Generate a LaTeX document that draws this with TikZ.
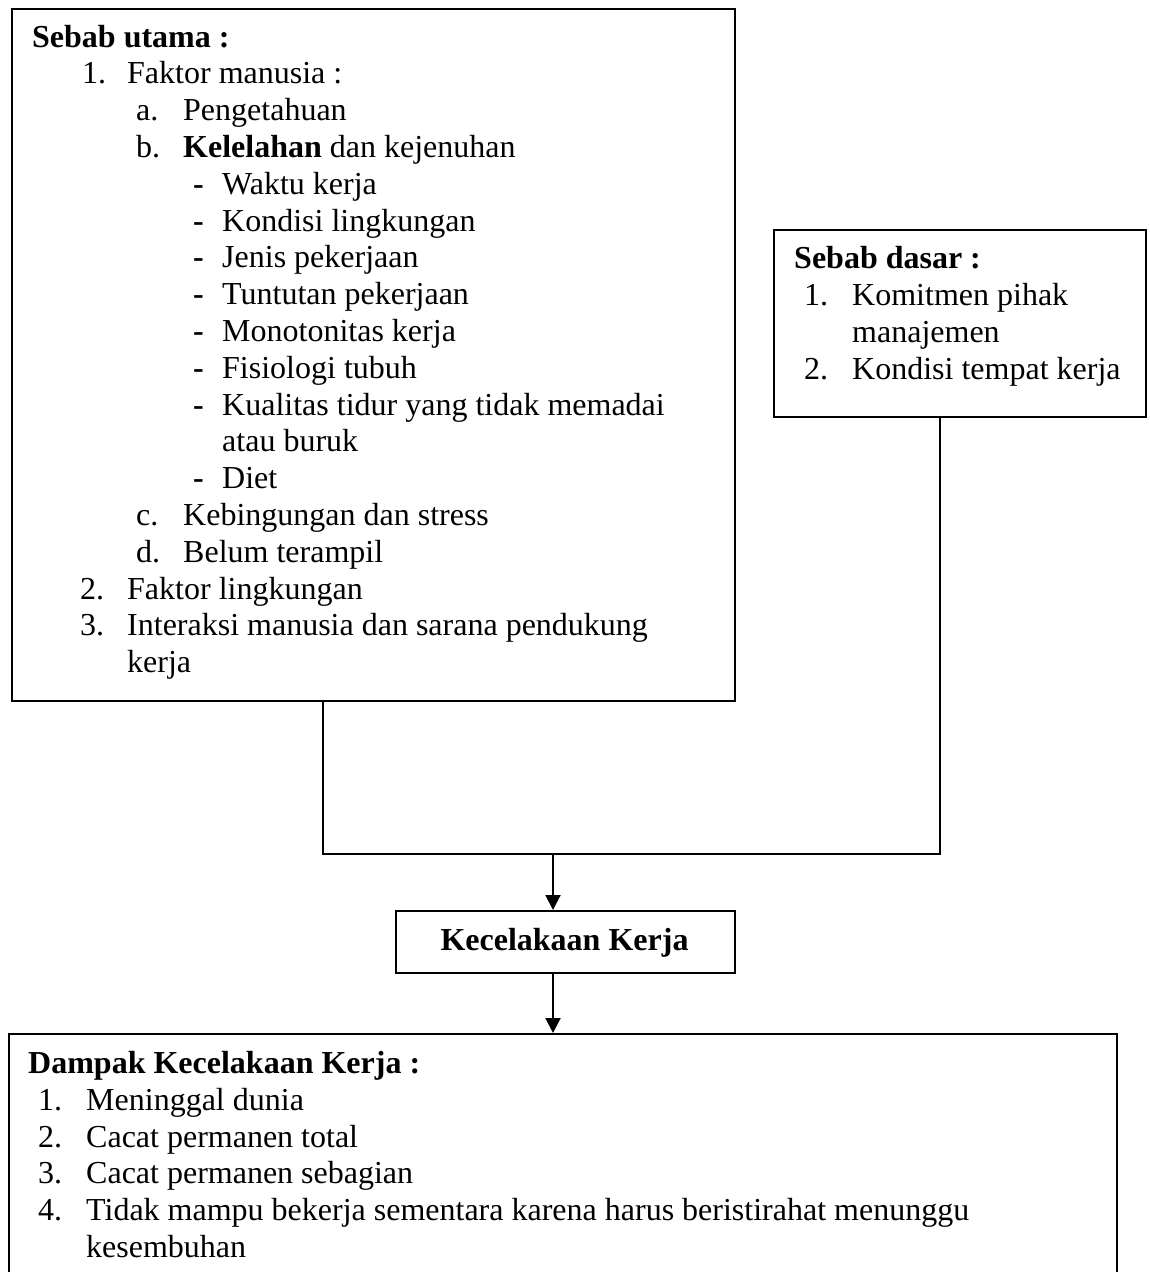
\documentclass[tikz,border=0pt]{standalone}
\usepackage{fontspec}
\setmainfont{Liberation Serif}
\usetikzlibrary{arrows.meta}
\tikzset{
  box/.style={draw=black, line width=2pt, inner sep=0pt, anchor=north west},
  txt/.style={anchor=base west, inner sep=0pt, font=\fontsize{32}{36.8}\selectfont},
  ctxt/.style={anchor=base, inner sep=0pt, font=\fontsize{32}{36.8}\selectfont\bfseries},
  conn/.style={line width=2pt, line cap=rect},
  arr/.style={line width=2pt, -{Triangle[length=15pt,width=15pt]}},
}
\newcommand{\dsh}{\textbf{-}}
\begin{document}
\begin{tikzpicture}[x=1pt,y=-1pt]
\useasboundingbox (0,0) rectangle (1149,1272);
\clip (0,0) rectangle (1149,1272);
% boxes
\node[box, minimum width=723pt, minimum height=692pt] (utama) at (10.5,7.5) {};
\node[box, minimum width=372pt, minimum height=187pt] (dasar) at (773,229) {};
\node[box, minimum width=339pt, minimum height=62pt] (kec) at (395,910) {};
\node[box, minimum width=1108pt, minimum height=300pt] (dampak) at (8,1033) {};
% Sebab utama
\node[txt] (u0) at (32,47) {\textbf{Sebab utama :}};
\node[txt] (u1n) at (82,83.8) {1.};
\node[txt] (u1) at (127,83.8) {Faktor manusia :};
\node[txt] (u2n) at (136,120.6) {a.};
\node[txt] (u2) at (183,120.6) {Pengetahuan};
\node[txt] (u3n) at (136,157.4) {b.};
\node[txt] (u3) at (183,157.4) {\textbf{Kelelahan} dan kejenuhan};
\node[txt] (u4d) at (193,194.2) {\dsh};
\node[txt] (u4) at (222,194.2) {Waktu kerja};
\node[txt] (u5d) at (193,231) {\dsh};
\node[txt] (u5) at (222,231) {Kondisi lingkungan};
\node[txt] (u6d) at (193,267.8) {\dsh};
\node[txt] (u6) at (222,267.8) {Jenis pekerjaan};
\node[txt] (u7d) at (193,304.6) {\dsh};
\node[txt] (u7) at (222,304.6) {Tuntutan pekerjaan};
\node[txt] (u8d) at (193,341.4) {\dsh};
\node[txt] (u8) at (222,341.4) {Monotonitas kerja};
\node[txt] (u9d) at (193,378.2) {\dsh};
\node[txt] (u9) at (222,378.2) {Fisiologi tubuh};
\node[txt] (u10d) at (193,415) {\dsh};
\node[txt] (u10) at (222,415) {Kualitas tidur yang tidak memadai};
\node[txt] (u11) at (222,451.8) {atau buruk};
\node[txt] (u12d) at (193,488.6) {\dsh};
\node[txt] (u12) at (222,488.6) {Diet};
\node[txt] (u13n) at (136,525.4) {c.};
\node[txt] (u13) at (183,525.4) {Kebingungan dan stress};
\node[txt] (u14n) at (136,562.2) {d.};
\node[txt] (u14) at (183,562.2) {Belum terampil};
\node[txt] (u15n) at (80,599) {2.};
\node[txt] (u15) at (127,599) {Faktor lingkungan};
\node[txt] (u16n) at (80,635.8) {3.};
\node[txt] (u16) at (127,635.8) {Interaksi manusia dan sarana pendukung};
\node[txt] (u17) at (127,672.6) {kerja};
% Sebab dasar
\node[txt] (d0) at (794,268) {\textbf{Sebab dasar :}};
\node[txt] (d1n) at (804,305) {1.};
\node[txt] (d1) at (852,305) {Komitmen pihak};
\node[txt] (d2) at (852,342) {manajemen};
\node[txt] (d3n) at (804,379) {2.};
\node[txt] (d3) at (852,379) {Kondisi tempat kerja};
% Kecelakaan
\node[ctxt] (k0) at (564.5,950.5) {Kecelakaan Kerja};
% Dampak
\node[txt] (p0) at (28,1073) {\textbf{Dampak Kecelakaan Kerja :}};
\node[txt] (p1n) at (38,1110) {1.};
\node[txt] (p1) at (86,1110) {Meninggal dunia};
\node[txt] (p2n) at (38,1147) {2.};
\node[txt] (p2) at (86,1147) {Cacat permanen total};
\node[txt] (p3n) at (38,1183.5) {3.};
\node[txt] (p3) at (86,1183.5) {Cacat permanen sebagian};
\node[txt] (p4n) at (38,1220.5) {4.};
\node[txt] (p4) at (86,1220.5) {Tidak mampu bekerja sementara karena harus beristirahat menunggu};
\node[txt] (p5) at (86,1257.5) {kesembuhan};
% connectors
\coordinate (jl) at (323,854);
\coordinate (jr) at (940,854);
\coordinate (j) at (553,854);
\draw[conn] (utama.south -| jl) -- (jl) -- (jr) -- (dasar.south -| jr);
\draw[arr] (j) -- (kec.north -| j);
\draw[arr] (kec.south -| j) -- (dampak.north -| j);
\end{tikzpicture}
\end{document}
